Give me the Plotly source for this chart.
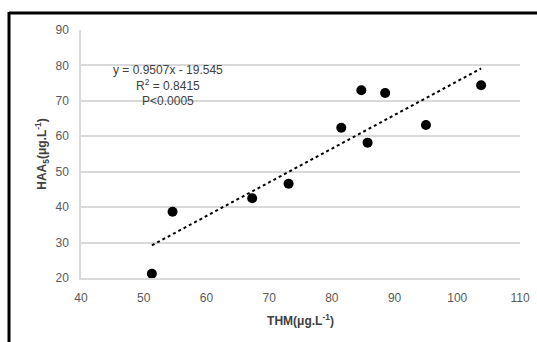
import plotly.graph_objects as go

thm = [51.3, 54.6, 67.3, 73.1, 81.5, 84.7, 85.7, 88.5, 95.0, 103.8]
haa5 = [21.2, 38.7, 42.5, 46.6, 62.4, 73.0, 58.2, 72.2, 63.2, 74.4]
slope = 0.9507
intercept = -19.545
x_ticks = [40, 50, 60, 70, 80, 90, 100, 110]
y_ticks = [20, 30, 40, 50, 60, 70, 80, 90]

tx = [min(thm), max(thm)]
ty = [slope * v + intercept for v in tx]

fig = go.Figure()
fig.add_trace(go.Scatter(x=tx, y=ty, mode="lines",
                         line=dict(color="black", width=2, dash="dot"),
                         hoverinfo="skip", showlegend=False))
fig.add_trace(go.Scatter(x=thm, y=haa5, mode="markers",
                         marker=dict(color="black", size=10),
                         showlegend=False))

font_family = "Liberation Sans, Arial, sans-serif"
fig.update_layout(
    width=537, height=342,
    margin=dict(l=81, r=17, t=30, b=64, autoexpand=False),
    paper_bgcolor="white", plot_bgcolor="white",
    font=dict(family=font_family, size=12, color="#595959"),
    xaxis=dict(range=[40, 110], tickvals=x_ticks, showgrid=False,
               showline=True, linecolor="#d9d9d9", linewidth=1.5,
               ticks="", ticklabelstandoff=8, zeroline=False, automargin=False,
               title=dict(text="<b>THM(μg.L<sup>-1</sup>)</b>",
                          font=dict(size=12, color="#404040"), standoff=12)),
    yaxis=dict(range=[20, 90], tickvals=y_ticks, showgrid=True,
               gridcolor="#d9d9d9", gridwidth=1.5,
               showline=True, linecolor="#d9d9d9", linewidth=1.5,
               ticks="", ticklabelstandoff=8, zeroline=False, automargin=False,
               title=dict(text="<b>HAA<sub>5</sub>(μg.L<sup>-1</sup>)</b>",
                          font=dict(size=12, color="#404040"), standoff=6)),
    annotations=[dict(
        xref="paper", yref="paper",
        x=(168 - 81) / 439, y=1 - (85 - 30) / 248,
        xanchor="center", yanchor="middle",
        text="y = 0.9507x - 19.545<br>R<sup>2</sup> = 0.8415<br>P<0.0005",
        showarrow=False, align="center",
        font=dict(size=12, color="#404040", family=font_family))],
    shapes=[
        dict(type="line", xref="paper", yref="paper",
             x0=(9 - 81) / 439, x1=(540 - 81) / 439,
             y0=1 + (30 - 13) / 248, y1=1 + (30 - 13) / 248,
             line=dict(color="black", width=3)),
        dict(type="line", xref="paper", yref="paper",
             x0=(9 - 81) / 439, x1=(9 - 81) / 439,
             y0=1 + (30 - 12) / 248, y1=-(345 - 278) / 248,
             line=dict(color="black", width=3)),
    ],
)

fig.write_html("out.html", config={"displayModeBar": False},
               post_script="document.body.style.margin='0';document.body.style.overflow='hidden';")
